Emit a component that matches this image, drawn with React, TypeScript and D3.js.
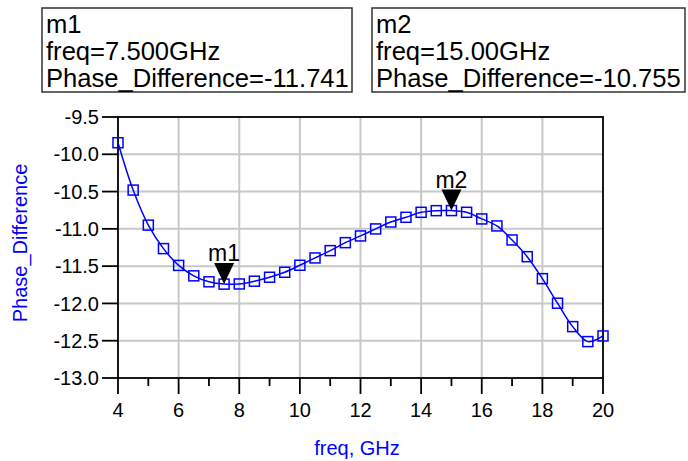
import React from 'react'
import * as d3 from 'd3'

// frequency sweep, GHz
const freqs = [4, 4.5, 5, 5.5, 6, 6.5, 7, 7.5, 8, 8.5, 9, 9.5, 10, 10.5, 11, 11.5, 12,
  12.5, 13, 13.5, 14, 14.5, 15, 15.5, 16, 16.5, 17, 17.5, 18, 18.5, 19, 19.5, 20]
// Phase_Difference values
const phaseDiff = [-9.845, -10.48, -10.95, -11.265, -11.49, -11.63, -11.71, -11.741, -11.739, -11.702,
  -11.649, -11.582, -11.488, -11.39, -11.292, -11.185, -11.095, -11.001, -10.908, -10.845,
  -10.778, -10.756, -10.755, -10.778, -10.867, -10.961, -11.149, -11.373, -11.668, -11.997,
  -12.311, -12.512, -12.436]

const xMajor = [4, 6, 8, 10, 12, 14, 16, 18, 20]
const xMinor = [5, 7, 9, 11, 13, 15, 17, 19]
const yTicks = [-9.5, -10, -10.5, -11, -11.5, -12, -12.5, -13]
const yTickLabels = ['-9.5', '-10.0', '-10.5', '-11.0', '-11.5', '-12.0', '-12.5', '-13.0']

const markers = [
  { name: 'm1', freq: 7.5, freqText: 'freq=7.500GHz', valText: 'Phase_Difference=-11.741', value: -11.741 },
  { name: 'm2', freq: 15, freqText: 'freq=15.00GHz', valText: 'Phase_Difference=-10.755', value: -10.755 }
]

class App extends React.Component {
  node: SVGSVGElement | null = null

  componentDidMount() {
    this.visualize()
  }

  visualize() {
    const svg = d3.select(this.node)
    svg.selectAll('*').remove()

    const left = 118, right = 603, top = 117, bottom = 378
    const font = 'Arial, "Liberation Sans", sans-serif'

    const x = d3.scaleLinear().domain([4, 20]).range([left, right])
    const y = d3.scaleLinear().domain([-9.5, -13]).range([top, bottom])

    const grid = svg.append('g').attr('stroke', '#c8c8c8').attr('stroke-width', 2)
    grid.selectAll('line.vg')
      .data(xMajor.slice(1, -1))
      .enter().append('line')
      .attr('x1', d => x(d)).attr('x2', d => x(d))
      .attr('y1', top).attr('y2', bottom)
    grid.selectAll('line.hg')
      .data(yTicks.slice(1, -1))
      .enter().append('line')
      .attr('x1', left).attr('x2', right)
      .attr('y1', d => y(d)).attr('y2', d => y(d))

    // frame
    svg.append('rect')
      .attr('x', left).attr('y', top)
      .attr('width', right - left).attr('height', bottom - top)
      .attr('fill', 'none').attr('stroke', '#000').attr('stroke-width', 1.8)

    // ticks
    const ax = svg.append('g').attr('stroke', '#000').attr('stroke-width', 1.8)
    ax.selectAll('line.maj').data(xMajor).enter().append('line')
      .attr('x1', d => x(d)).attr('x2', d => x(d))
      .attr('y1', bottom).attr('y2', bottom + 16)
    ax.selectAll('line.min').data(xMinor).enter().append('line')
      .attr('x1', d => x(d)).attr('x2', d => x(d))
      .attr('y1', bottom).attr('y2', bottom + 8)
    ax.selectAll('line.yt').data(yTicks).enter().append('line')
      .attr('x1', left - 16).attr('x2', left)
      .attr('y1', d => y(d)).attr('y2', d => y(d))

    svg.selectAll('text.xl').data(xMajor).enter().append('text')
      .attr('x', d => x(d)).attr('y', 417)
      .attr('text-anchor', 'middle')
      .attr('font-family', font).attr('font-size', 20)
      .text(d => d)
    svg.selectAll('text.yl').data(yTicks).enter().append('text')
      .attr('x', 99).attr('y', d => y(d))
      .attr('dy', '0.36em')
      .attr('text-anchor', 'end')
      .attr('font-family', font).attr('font-size', 20)
      .text((d, i) => yTickLabels[i])

    // axis titles
    svg.append('text')
      .attr('x', 357).attr('y', 455)
      .attr('text-anchor', 'middle')
      .attr('font-family', font).attr('font-size', 20)
      .attr('fill', '#0000ff')
      .text('freq, GHz')
    svg.append('text')
      .attr('transform', 'translate(27,243) rotate(-90)')
      .attr('text-anchor', 'middle')
      .attr('font-family', font).attr('font-size', 20)
      .attr('fill', '#0000ff')
      .text('Phase_Difference')

    const line = d3.line<number>()
      .x((d, i) => x(freqs[i]))
      .y(d => y(d))
      .curve(d3.curveCatmullRom)

    svg.append('path')
      .attr('d', line(phaseDiff))
      .attr('fill', 'none')
      .attr('stroke', '#0000ff')
      .attr('stroke-width', 1.5)

    svg.append('g').selectAll('rect')
      .data(phaseDiff)
      .enter().append('rect')
      .attr('x', (d, i) => x(freqs[i]) - 5)
      .attr('y', d => y(d) - 5)
      .attr('width', 10).attr('height', 10)
      .attr('fill', 'none')
      .attr('stroke', '#0000ff')
      .attr('stroke-width', 1.5)

    // marker triangles + names
    const mk = svg.append('g')
    markers.forEach(m => {
      const px = x(m.freq), py = y(m.value)
      mk.append('path')
        .attr('d', `M${px - 10},${py - 21}L${px + 10},${py - 21}L${px},${py}Z`)
        .attr('fill', '#000')
      mk.append('text')
        .attr('x', px).attr('y', py - 23)
        .attr('text-anchor', 'middle')
        .attr('font-family', font).attr('font-size', 23)
        .text(m.name)
    })

    // readout boxes
    const boxes = [{ x: 42, w: 310 }, { x: 372, w: 313 }]
    markers.forEach((m, i) => {
      const b = boxes[i]
      const g = svg.append('g')
      g.append('rect')
        .attr('x', b.x).attr('y', 8)
        .attr('width', b.w).attr('height', 84)
        .attr('fill', '#fff').attr('stroke', '#333').attr('stroke-width', 1.5)
      const lines = [m.name, m.freqText, m.valText]
      g.selectAll('text').data(lines).enter().append('text')
        .attr('x', b.x + 4)
        .attr('y', (d, j) => 33 + j * 27)
        .attr('font-family', font).attr('font-size', 25.6)
        .text(d => d)
    })
  }

  render() {
    return <svg
      ref={node => { this.node = node }}
      width={688}
      height={461}
      style={{ position: 'absolute', left: 0, top: 0, background: '#fff' }}
    />
  }
}

export default App
